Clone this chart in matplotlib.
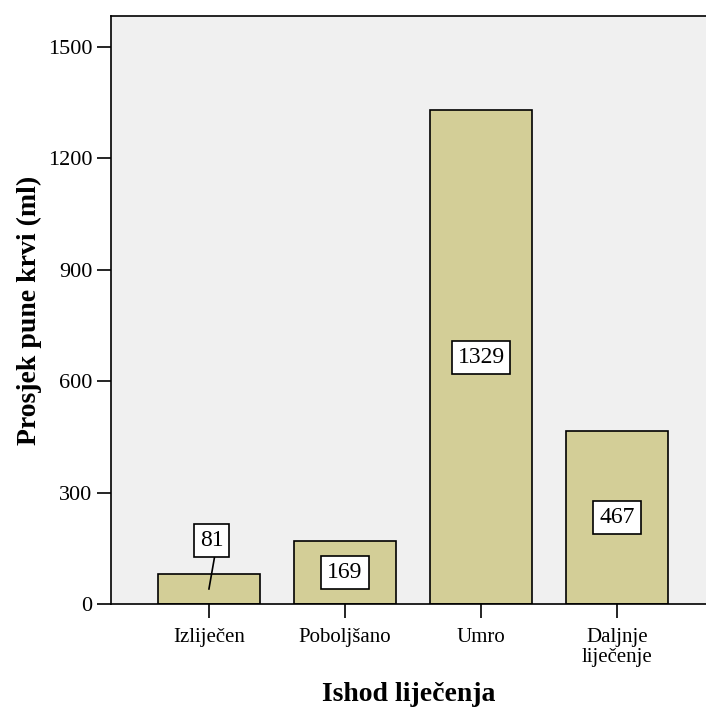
import numpy as np
import matplotlib.pyplot as plt

# podaci
categories = ["Izliječen", "Poboljšano", "Umro", "Daljnje\nliječenje"]
values = [81, 169, 1329, 467]
label_pos = [172, 84, 664, 233]   # gdje stoje oznake (81 je izvučen iznad stupca)
yticks = [0, 300, 600, 900, 1200, 1500]

plt.rcParams['font.family'] = ['Liberation Serif', 'DejaVu Serif']

fig = plt.figure(figsize=(7.06, 7.11), dpi=100)
ax = fig.add_axes([111 / 706, 107 / 711, 595 / 706, 588 / 711])
ax.set_facecolor('#f0f0f0')

x = np.arange(len(categories))
ax.bar(x, values, width=0.75, color='#d3ce97', edgecolor='black', linewidth=1.2, zorder=2)

for xi, v, lp in zip(x, values, label_pos):
    ax.text(xi + (0.02 if v == 81 else 0), lp, str(v), ha='center', va='center', fontsize=17, zorder=4,
            bbox=dict(boxstyle='square,pad=0.25', fc='white', ec='black', lw=1.2))
    if lp > v:
        ax.plot([xi + 0.04, xi], [lp - 48, v / 2], color='black', lw=1.2, zorder=3)

ax.set_xlim(-0.72, 3.654)
ax.set_ylim(0, 1583)
ax.set_xticks(x)
ax.set_xticklabels(categories, fontsize=15, linespacing=1.1)
ax.set_yticks(yticks)
ax.tick_params(axis='y', labelsize=16, length=10, width=1.2)
ax.tick_params(axis='x', length=10, width=1.2, pad=7)

for s in ['left', 'bottom', 'top']:
    ax.spines[s].set_linewidth(1.2)
ax.spines['right'].set_visible(False)

ax.set_xlabel("Ishod liječenja", fontsize=20, fontweight='bold', labelpad=11)
ax.set_ylabel("Prosjek pune krvi (ml)", fontsize=20, fontweight='bold', labelpad=4)

fig.savefig("out.png", dpi=100)
